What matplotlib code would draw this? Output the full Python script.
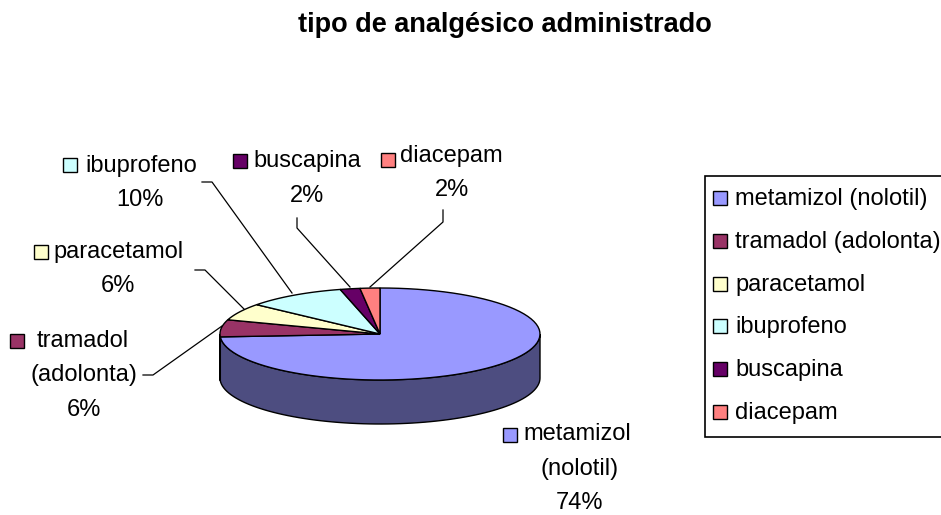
import numpy as np
import matplotlib.pyplot as plt
from matplotlib.patches import Polygon, Rectangle
from matplotlib.colors import to_rgb

plt.rcParams['font.family'] = ['Liberation Sans', 'DejaVu Sans']

# datos
categorias = ['metamizol (nolotil)', 'tramadol (adolonta)', 'paracetamol',
              'ibuprofeno', 'buscapina', 'diacepam']
porcentajes = [74, 6, 6, 10, 2, 2]
colores = ['#9999FF', '#993366', '#FFFFCC', '#CCFFFF', '#660066', '#FF8080']
titulo = 'tipo de analgésico administrado'

# etiquetas de datos: lineas de texto (sin el porcentaje)
lineas_etiqueta = [['metamizol', '(nolotil)'],
                   ['tramadol', '(adolonta)'],
                   ['paracetamol'],
                   ['ibuprofeno'],
                   ['buscapina'],
                   ['diacepam']]

# geometria (pixeles)
cx, cy, rx, ry, prof = 380, 334, 160, 46, 44

# posicion de cada etiqueta: (x centro, baseline primera linea, x marcador, y marcador)
pos_etiqueta = [(580, 440, 503, 428),
                (84, 347, 10, 334),
                (118, 258, 34, 245),
                (140, 172, 63, 158),
                (307, 167, 233, 154),
                (452, 162, 381, 153)]
# inicio en x del texto de la primera linea
x_texto_1 = [523, 37, 53, 85, 253, 400]
lideres = [None,
           [(143, 375), (153, 375), (222, 326)],
           [(195, 270), (205, 270), (244, 309)],
           [(202, 182), (212, 182), (292, 293)],
           [(297, 218), (297, 228), (350, 287)],
           [(443, 210), (443, 222), (370, 287)]]

fig = plt.figure(figsize=(9.41, 5.15), dpi=100)
ax = fig.add_axes([0, 0, 1, 1])
ax.set_xlim(0, 941)
ax.set_ylim(515, 0)
ax.axis('off')


def arco(a, b, n=80):
    t = np.radians(np.linspace(a, b, n))
    return cx + rx * np.cos(t), cy - ry * np.sin(t)


# angulos de cada porcion, empezando arriba y en sentido horario
inicio = 90.0
rangos = []
for v in porcentajes:
    fin = inicio - v * 3.6
    rangos.append((fin, inicio))
    inicio = fin

# caras laterales (solo la parte delantera)
for (a, b), col in zip(rangos, colores):
    oscuro = tuple(c * 0.5 for c in to_rgb(col))
    for k in (-360, 0, 360):
        lo, hi = max(a, 180 + k), min(b, 360 + k)
        if lo < hi:
            xs, ys = arco(lo, hi)
            pts = np.column_stack([np.r_[xs, xs[::-1]], np.r_[ys, ys[::-1] + prof]])
            ax.add_patch(Polygon(pts, closed=True, fc=oscuro, ec='black', lw=1))

# caras superiores
for (a, b), col in zip(rangos, colores):
    xs, ys = arco(b, a)
    pts = np.column_stack([np.r_[cx, xs], np.r_[cy, ys]])
    ax.add_patch(Polygon(pts, closed=True, fc=col, ec='black', lw=1, joinstyle='miter'))

# etiquetas con lineas guia
fs = 17
for i in range(len(categorias)):
    xc, yb, mx, my = pos_etiqueta[i]
    lineas = lineas_etiqueta[i] + ['%d%%' % porcentajes[i]]
    for j, txt in enumerate(lineas):
        if j == 0:
            ax.text(x_texto_1[i], yb, txt, ha='left', va='baseline', fontsize=fs)
        else:
            ax.text(xc, yb + 34.5 * j, txt, ha='center', va='baseline', fontsize=fs)
    ax.add_patch(Rectangle((mx, my), 14, 14, fc=colores[i], ec='black', lw=1))
    if lideres[i] is not None:
        lx, ly = zip(*lideres[i])
        ax.plot(lx, ly, color='black', lw=0.9)

# leyenda
ax.add_patch(Rectangle((705, 176), 300, 261, fc='white', ec='black', lw=1.2))
for i, nombre in enumerate(categorias):
    yb = 205 + 42.8 * i
    ax.add_patch(Rectangle((713, yb - 14), 14, 14, fc=colores[i], ec='black', lw=1))
    ax.text(735, yb, nombre, ha='left', va='baseline', fontsize=fs)

ax.text(505, 32, titulo, ha='center', va='baseline', fontsize=19.5, fontweight='bold')

fig.savefig('out.png', dpi=100)
